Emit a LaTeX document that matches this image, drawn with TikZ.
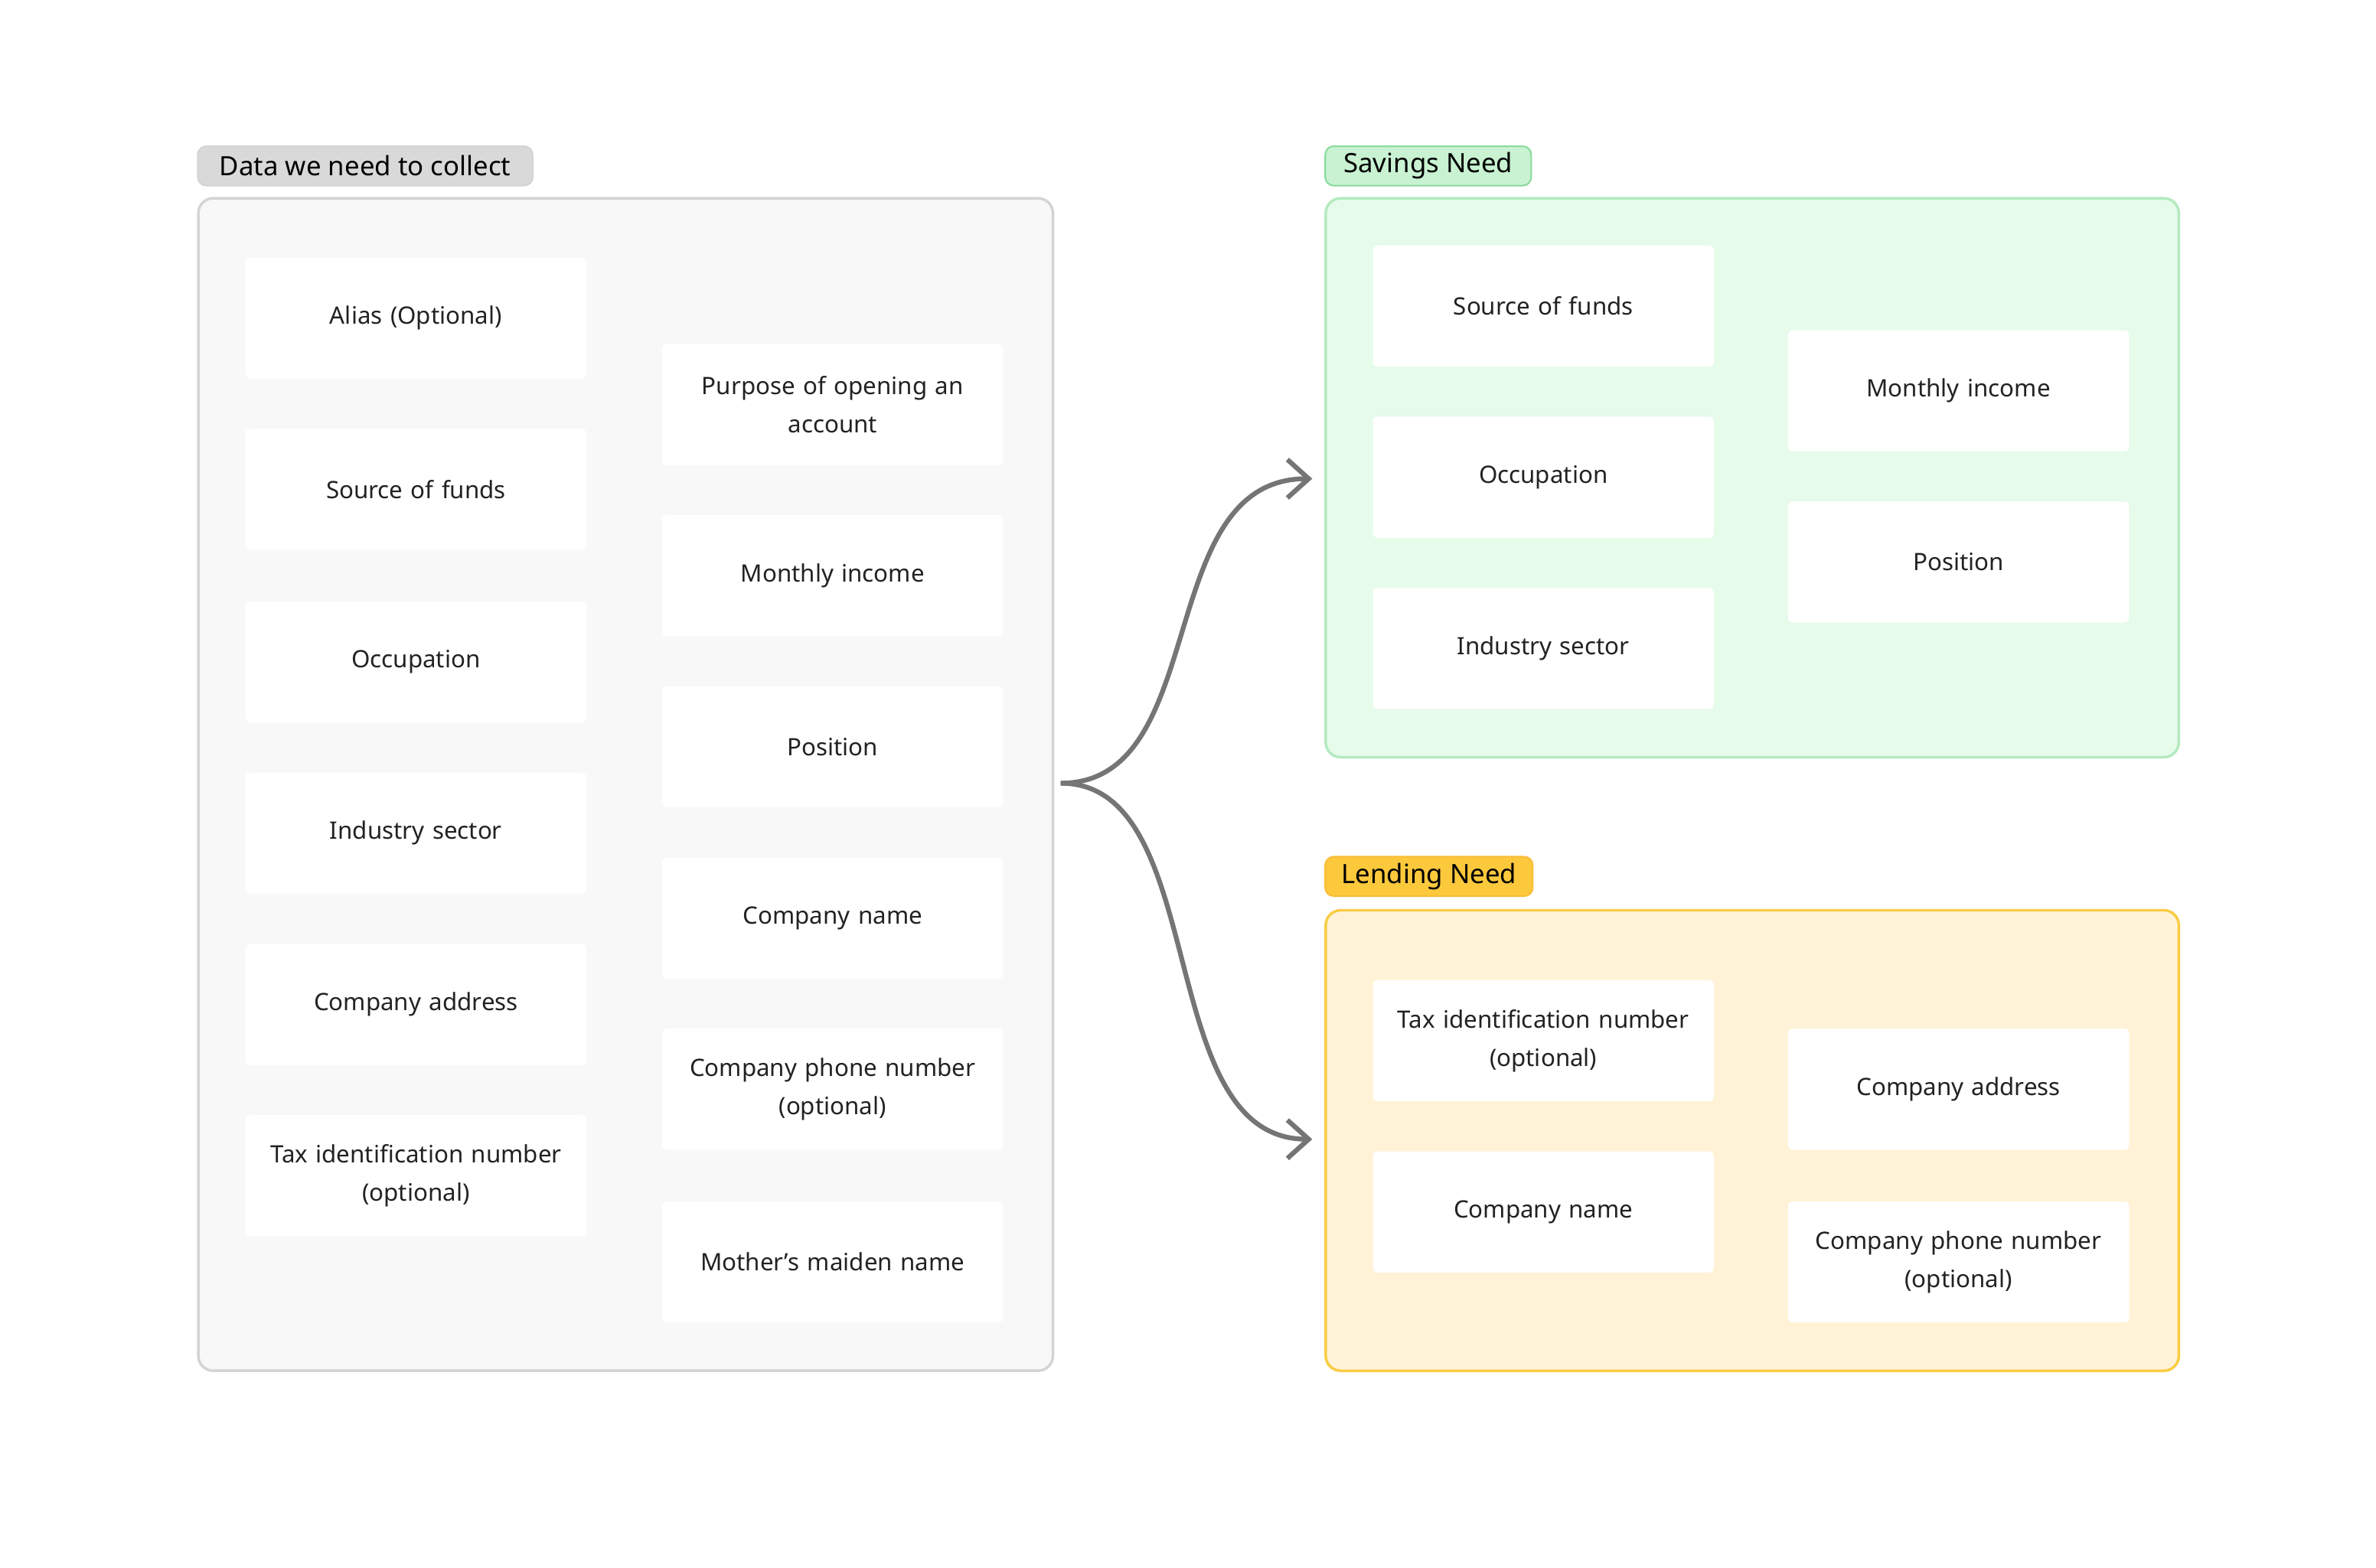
\documentclass[tikz,border=0pt]{standalone}
\usepackage{fontspec}
\setmainfont{Noto Sans}
\usetikzlibrary{arrows.meta}
\definecolor{leftfill}{HTML}{F8F8F8}
\definecolor{leftline}{HTML}{D4D4D4}
\definecolor{leftlab}{HTML}{D9D9D9}
\definecolor{savfill}{HTML}{E6FBEA}
\definecolor{savline}{HTML}{B4EAC0}
\definecolor{savlab}{HTML}{C8F2D1}
\definecolor{savlabline}{HTML}{8ADB9C}
\definecolor{lenfill}{HTML}{FFF2D6}
\definecolor{lenline}{HTML}{F9CC45}
\definecolor{lenlab}{HTML}{FCC93C}
\definecolor{arr}{HTML}{757575}
\definecolor{txt}{HTML}{222222}
\begin{document}
\begin{tikzpicture}[x=0.05cm,y=-0.05cm,
 item/.style={fill=white,rounded corners=4pt,minimum width=11.25cm,minimum height=4cm,align=center,text width=10.8cm,font=\fontsize{22.5}{36}\selectfont,text=txt,inner sep=0pt},
 cont/.style={rounded corners=14pt,line width=2.5pt},
 lab/.style={rounded corners=8pt,line width=1.5pt,anchor=north west,minimum height=1.3cm,inner xsep=12pt,font=\fontsize{25}{28}\selectfont,text=black},
 conn/.style={draw=arr,line width=4.5pt,-{Straight Barb[length=20pt,width=36pt,line width=4.5pt]}}]
\useasboundingbox (0,0) rectangle (1568,1034.6);
\fill[white] (0,0) rectangle (1568,1034.6);
% containers
\node[cont,draw=leftline,fill=leftfill,minimum width=28.2cm,minimum height=38.7cm,anchor=north west] (L) at (130,130) {};
\node[cont,draw=savline,fill=savfill,minimum width=28.15cm,minimum height=18.45cm,anchor=north west] (S) at (874,130) {};
\node[cont,draw=lenline,fill=lenfill,minimum width=28.15cm,minimum height=15.2cm,anchor=north west] (N) at (874,600) {};
\node[lab,draw=leftline,fill=leftlab,minimum width=11.05cm] (Ll) at (130,96) {Data we need to collect};
\node[lab,draw=savlabline,fill=savlab,minimum width=6.8cm] (Sl) at (874,96) {Savings Need};
\node[lab,draw=lenline!80!orange,fill=lenlab,minimum width=6.85cm] (Nl) at (874,565) {Lending Need};
% left items
\node[item] (a1) at (274.5,210) {Alias (Optional)};
\node[item] (a2) at (274.5,323) {Source of funds};
\node[item] (a3) at (274.5,437) {Occupation};
\node[item] (a4) at (274.5,550) {Industry sector};
\node[item] (a5) at (274.5,663) {Company address};
\node[item] (a6) at (274.5,776) {Tax identification number\\(optional)};
\node[item] (b1) at (549.5,267) {Purpose of opening an\\account};
\node[item] (b2) at (549.5,380) {Monthly income};
\node[item] (b3) at (549.5,493) {Position};
\node[item] (b4) at (549.5,606) {Company name};
\node[item] (b5) at (549.5,719) {Company phone number\\(optional)};
\node[item] (b6) at (549.5,833) {Mother's maiden name};
% savings
\node[item] (s1) at (1018.5,202) {Source of funds};
\node[item] (s2) at (1018.5,315) {Occupation};
\node[item] (s3) at (1018.5,428) {Industry sector};
\node[item] (s4) at (1292.5,258) {Monthly income};
\node[item] (s5) at (1292.5,371) {Position};
% lending
\node[item] (n1) at (1018.5,687) {Tax identification number\\(optional)};
\node[item] (n2) at (1018.5,800) {Company name};
\node[item] (n3) at (1292.5,719) {Company address};
\node[item] (n4) at (1292.5,833) {Company phone number\\(optional)};
% connectors
\coordinate (src) at (700,517);
\coordinate (t1) at (866,316);
\coordinate (t2) at (866,752);
\draw[conn] (src) .. controls (800,517) and (760,316) .. (t1);
\draw[conn] (src) .. controls (800,517) and (760,752) .. (t2);
\end{tikzpicture}
\end{document}
